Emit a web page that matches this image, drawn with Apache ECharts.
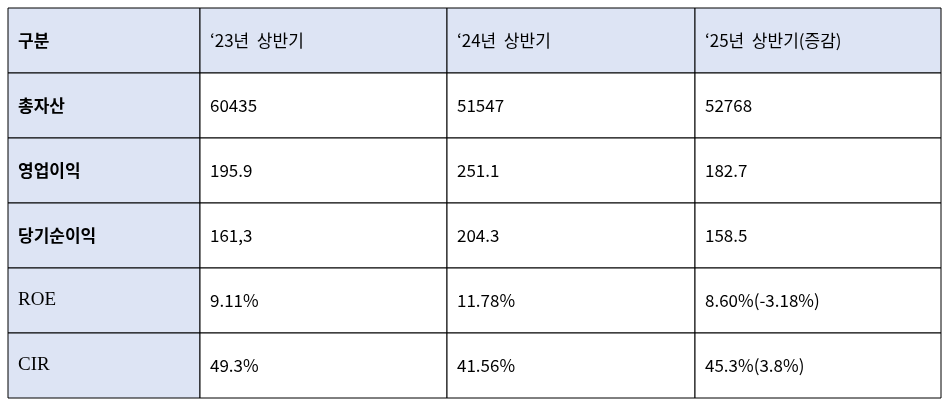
<!DOCTYPE html>
<html>
<head>
<meta charset="utf-8">
<script src="https://cdn.jsdelivr.net/npm/echarts@6/dist/echarts.min.js"></script>
<style>html,body{margin:0;padding:0;background:#fff}#main{width:947px;height:403px}</style>
</head>
<body>
<div id="main"></div>
<script>
// 표 헤더
let headers = ['구분', '‘23년  상반기', '‘24년  상반기', '‘25년  상반기(증감)']
// 행 이름
let rowNames = ['총자산', '영업이익', '당기순이익', 'ROE', 'CIR']
// 각 연도 값
let y23 = ['60435', '195.9', '161,3', '9.11%', '49.3%']
let y24 = ['51547', '251.1', '204.3', '11.78%', '41.56%']
let y25 = ['52768', '182.7', '158.5', '8.60%(-3.18%)', '45.3%(3.8%)']

// 열 너비 비율
let colWidths = [192, 247, 248, 246]
let totalW = colWidths.reduce((a, b) => a + b, 0)

let rows = [headers]
rowNames.forEach((name, i) => rows.push([name, y23[i], y24[i], y25[i]]))

let cells = []
rows.forEach((r, ri) => r.forEach((t, ci) => cells.push([ci, ri, t])))

let myChart = echarts.init(document.getElementById('main'))
let option = {
    animation: false,
    grid: {left: 8, right: 6, top: 8, bottom: 5},
    xAxis: {type: 'category', data: headers.map((h, i) => i), show: false},
    yAxis: {type: 'category', data: rows.map((r, i) => i), inverse: true, show: false},
    series: [{
        type: 'custom',
        data: cells,
        renderItem: (params, api) => {
            let ci = api.value(0), ri = api.value(1)
            let cs = params.coordSys
            let rowH = cs.height / rows.length
            let x = cs.x
            for (let k = 0; k < ci; k++) x += colWidths[k] / totalW * cs.width
            let w = colWidths[ci] / totalW * cs.width
            let yc = api.coord([0, ri])[1]
            let y = yc - rowH / 2
            let shaded = ri === 0 || ci === 0
            let text = cells[params.dataIndex][2]
            let latin = /^[A-Z]+$/.test(text)
            return {
                type: 'group',
                children: [{
                    type: 'rect',
                    shape: {x: x, y: y, width: w, height: rowH},
                    style: {fill: shaded ? '#dde4f4' : '#fff', stroke: '#000', lineWidth: 1}
                }, {
                    type: 'text',
                    style: {
                        x: x + 10, y: yc, text: text,
                        verticalAlign: 'middle',
                        fill: '#000',
                        fontSize: latin ? 19 : 17,
                        fontWeight: (ci === 0 && !latin) ? 'bold' : 'normal',
                        fontFamily: latin ? '"Liberation Serif", serif' : '"Noto Sans CJK KR", sans-serif'
                    }
                }]
            }
        }
    }]
}
myChart.setOption(option)
</script>
</body>
</html>
